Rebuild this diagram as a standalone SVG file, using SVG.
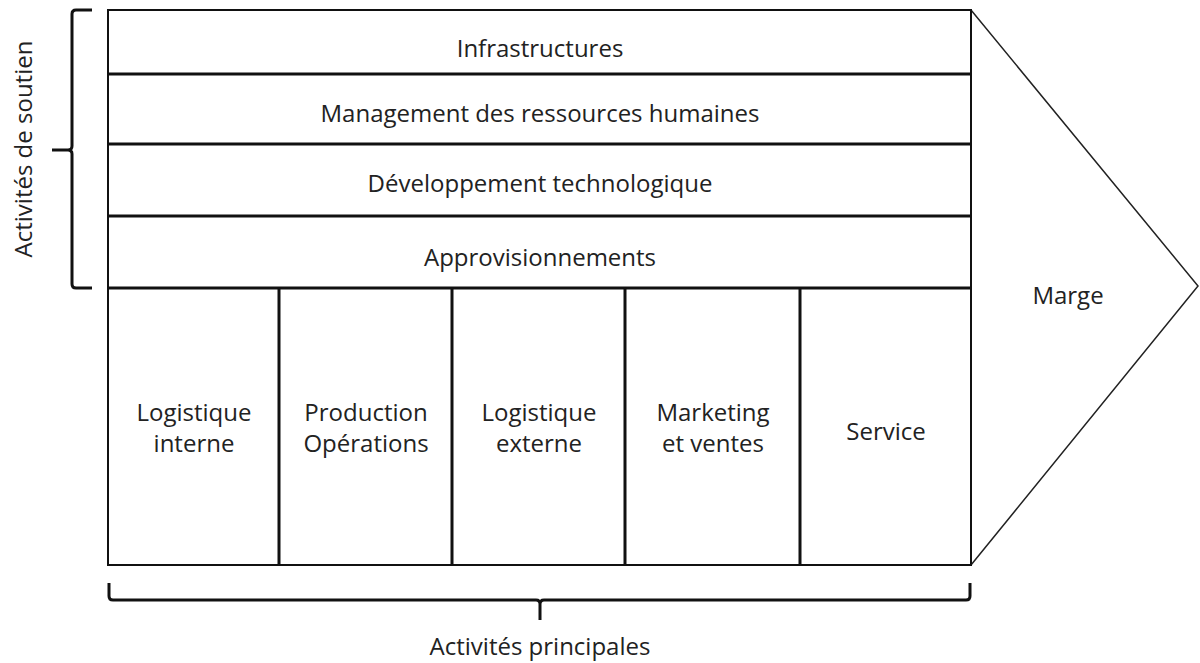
<svg xmlns="http://www.w3.org/2000/svg" width="1200" height="663" viewBox="0 0 1200 663">
<style>
.t{font-family:"Open Sans","Liberation Sans",sans-serif;font-size:24px;fill:#222;text-anchor:middle;dominant-baseline:central}
.b{fill:none;stroke:#111;stroke-width:2}
.d{stroke:#111;stroke-width:3;fill:none}
.br{fill:none;stroke:#111;stroke-width:3;stroke-linejoin:round}
</style>
<rect width="1200" height="663" fill="#fff"/>
<g id="margin-arrow"><polyline points="971,10 1198,286 971,565" fill="none" stroke="#222" stroke-width="1.5"/><text class="t" x="1068" y="294">Marge</text></g>
<g id="support">
<g id="infra"><rect class="b" x="108" y="10" width="863" height="64"/><text class="t" x="540" y="47">Infrastructures</text></g>
<g id="grh"><rect class="b" x="108" y="74" width="863" height="70"/><text class="t" x="540" y="112">Management des ressources humaines</text></g>
<g id="tech"><rect class="b" x="108" y="144" width="863" height="72"/><text class="t" x="540" y="182">Développement technologique</text></g>
<g id="appro"><rect class="b" x="108" y="216" width="863" height="72"/><text class="t" x="540" y="256">Approvisionnements</text></g>
</g>
<g id="primary">
<g id="log-int"><rect class="b" x="108" y="288" width="171" height="277"/><text class="t" x="194" y="411">Logistique</text><text class="t" x="194" y="442">interne</text></g>
<g id="prod"><rect class="b" x="279" y="288" width="173" height="277"/><text class="t" x="366" y="411">Production</text><text class="t" x="366" y="442">Opérations</text></g>
<g id="log-ext"><rect class="b" x="452" y="288" width="173" height="277"/><text class="t" x="539" y="411">Logistique</text><text class="t" x="539" y="442">externe</text></g>
<g id="mkt"><rect class="b" x="625" y="288" width="175" height="277"/><text class="t" x="713" y="411">Marketing</text><text class="t" x="713" y="442">et ventes</text></g>
<g id="service"><rect class="b" x="800" y="288" width="171" height="277"/><text class="t" x="886" y="430">Service</text></g>
</g>
<g id="dividers">
<line class="d" x1="108" y1="74" x2="971" y2="74"/>
<line class="d" x1="108" y1="144" x2="971" y2="144"/>
<line class="d" x1="108" y1="216" x2="971" y2="216"/>
<line class="d" x1="108" y1="288" x2="971" y2="288"/>
<line class="d" x1="279" y1="288" x2="279" y2="565"/>
<line class="d" x1="452" y1="288" x2="452" y2="565"/>
<line class="d" x1="625" y1="288" x2="625" y2="565"/>
<line class="d" x1="800" y1="288" x2="800" y2="565"/>
</g>
<g id="brace-left"><path class="br" d="M92,10 H76 Q72,10 72,14 V146 Q72,150 68,150 H52 M68,150 Q72,150 72,154 V284 Q72,288 76,288 H92"/><text class="t" x="22" y="149" transform="rotate(-90 22 149)">Activités de soutien</text></g>
<g id="brace-bottom"><path class="br" d="M109,583 V596 Q109,600 113,600 H536 Q540,600 540,604 V620 M540,604 Q540,600 544,600 H966 Q970,600 970,596 V583"/><text class="t" x="540" y="645">Activités principales</text></g>
</svg>
